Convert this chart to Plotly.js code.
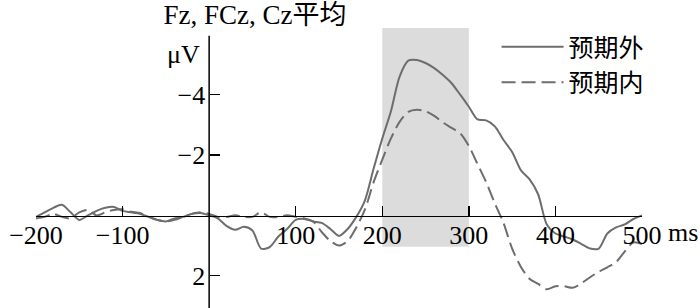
<!DOCTYPE html>
<html>
<head>
<meta charset="utf-8">
<script src="https://cdn.plot.ly/plotly-3.0.1.min.js"></script>
<style>html,body{margin:0;padding:0;background:#fff;}#chart{width:700px;height:308px;}</style>
</head>
<body>
<div id="chart"></div>
<script>
// time (ms)
const timeMs = [-200,-190,-180,-170,-160,-150,-140,-130,-120,-110,-100,-90,-80,-70,-60,-50,-40,-30,-20,-10,
  0,10,20,30,40,50,60,70,80,90,100,110,120,130,140,150,160,170,180,190,
  200,210,220,230,240,250,260,270,280,290,300,310,320,330,340,350,360,370,380,390,
  400,410,420,430,440,450,460,470,480,490,500];
// 预期外 (unexpected), μV
const unexpectedUV = [0.05,-0.1,-0.25,-0.35,-0.1,0.15,0.0,-0.15,-0.25,-0.28,-0.15,-0.1,-0.05,0.05,0.15,0.2,0.1,0.05,-0.05,-0.08,
  0.0,0.1,0.35,0.48,0.38,0.5,1.1,1.05,0.7,0.45,0.15,0.12,0.2,0.25,0.45,0.68,0.45,0.05,-0.5,-1.55,
  -2.55,-3.45,-4.6,-5.13,-5.15,-5.05,-4.88,-4.65,-4.38,-4.0,-3.6,-3.18,-3.15,-2.95,-2.5,-2.1,-1.5,-1.2,-0.7,0.3,
  0.6,0.7,0.8,0.95,1.1,1.1,0.6,0.4,0.3,0.12,0.0];
// 预期内 (expected), μV
const expectedUV = [0.1,0.05,-0.05,0.05,0.1,-0.1,-0.18,0.0,-0.1,-0.18,-0.2,-0.12,-0.08,0.05,0.15,0.2,0.15,0.05,-0.05,-0.1,
  -0.05,0.05,0.05,0.0,0.05,0.05,-0.1,0.05,0.05,0.0,0.05,0.1,0.2,0.55,0.85,1.0,0.85,0.4,-0.2,-1.1,
  -1.85,-2.55,-3.1,-3.43,-3.5,-3.45,-3.3,-3.08,-2.9,-2.72,-2.3,-1.7,-1.1,-0.4,0.25,1.1,1.7,2.1,2.27,2.45,
  2.35,2.35,2.4,2.25,2.05,1.87,1.72,1.55,1.2,0.9,0.95];

const seriesNames = ['预期外','预期内'];
const xTickVals = [-200,-100,100,200,300,400,500];
const xTickText = ['\u2212200','\u2212100','100','200','300','400','500'];
const yTickVals = [-4,-2,2];
const yTickText = ['\u22124','\u22122','2'];
const windowMs = [200,300];

const FONT = '"Liberation Serif", "Times New Roman", "Noto Sans CJK SC", serif';
const LINE = '#6d6d6d';

const traces = [
  {x: timeMs, y: unexpectedUV, name: seriesNames[0], type: 'scatter', mode: 'lines',
   line: {color: LINE, width: 2, shape: 'spline', smoothing: 0.8}},
  {x: timeMs, y: expectedUV, name: seriesNames[1], type: 'scatter', mode: 'lines',
   line: {color: LINE, width: 2, dash: '14px,6px', shape: 'spline', smoothing: 0.8}}
];

const layout = {
  width: 700, height: 308,
  margin: {l: 36, r: 58, t: 28, b: 0},
  paper_bgcolor: '#fff', plot_bgcolor: 'rgba(0,0,0,0)',
  font: {family: FONT, size: 26, color: '#000'},
  showlegend: true,
  legend: {x: 0.76, y: 1.014, xanchor: 'left', yanchor: 'top', bgcolor: 'rgba(0,0,0,0)',
           font: {family: FONT, size: 25, color: '#000'}, itemwidth: 62, tracegroupgap: 0},
  title: {text: 'Fz, FCz, Cz平均', font: {family: FONT, size: 27, color: '#000'},
          x: 255/700, xanchor: 'center', xref: 'container', y: 1 - 15/308, yanchor: 'middle', yref: 'container'},
  xaxis: {range: [-200, 500], anchor: 'free', position: 0.330, showgrid: false, zeroline: false,
          showline: true, linecolor: '#000', linewidth: 1.5,
          ticks: 'inside', ticklen: 10, tickwidth: 1.5, tickcolor: '#000',
          tickvals: xTickVals, ticktext: xTickText, tickfont: {family: FONT, size: 26, color: '#000'},
          ticklabelstandoff: -4},
  yaxis: {range: [3.07, -6.21], anchor: 'free', position: 200/700, showgrid: false, zeroline: false,
          showline: false, ticks: 'inside', ticklen: 10, tickwidth: 1.5, tickcolor: '#000',
          tickvals: yTickVals, ticktext: yTickText, tickfont: {family: FONT, size: 26, color: '#000'},
          ticklabelstandoff: 4},
  shapes: [
    {type: 'rect', xref: 'x', yref: 'y', x0: windowMs[0], x1: windowMs[1], y0: 1.04, y1: -6.21,
     fillcolor: '#dcdcdc', line: {width: 0}, layer: 'below'},
    {type: 'line', xref: 'x', yref: 'y', x0: 0, x1: 0, y0: -5.95, y1: 3.07,
     line: {color: '#000', width: 1.5}, layer: 'above'}
  ],
  annotations: [
    {text: 'μV', xref: 'x', yref: 'y', x: 0, y: -5.32, xanchor: 'right', yanchor: 'middle', xshift: -7,
     showarrow: false, font: {family: FONT, size: 26, color: '#000'}},
    {text: 'ms', xref: 'x', yref: 'y', x: 500, y: 0.58, xanchor: 'left', yanchor: 'middle', xshift: 24,
     showarrow: false, font: {family: FONT, size: 26, color: '#000'}}
  ]
};

Plotly.newPlot('chart', traces, layout, {displayModeBar: false, staticPlot: true});
</script>
</body>
</html>
